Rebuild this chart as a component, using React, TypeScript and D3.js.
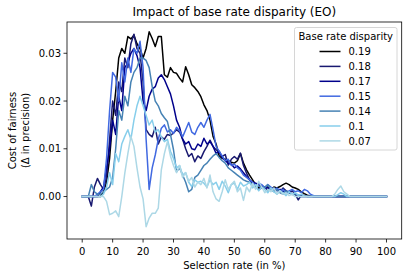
import React from "react";
import * as d3 from "d3";

const selectionRates: number[] = d3.range(0, 101);

const labels = ["0.19", "0.18", "0.17", "0.15", "0.14", "0.1", "0.07"];
const colors = ["#000000", "#191970", "#00008b", "#4169e1", "#4682b4", "#87ceeb", "#add8e6"];

const s019 = [0,0,0,0,0,0,0,0.001,0.003,0.008,
0.016,0.022,0.029,0.031,0.030,0.0335,0.033,0.0338,0.032,0.031,
0.029,0.031,0.0345,0.0331,0.0314,0.0335,0.0335,0.0255,0.025,0.027,
0.026,0.0258,0.0248,0.024,0.0272,0.0255,0.0234,0.0228,0.022,0.0209,
0.0192,0.018,0.016,0.0126,0.011,0.0085,0.008,0.0078,0.0075,0.0072,
0.007,0.0075,0.009,0.007,0.0056,0.0045,0.0035,0.0025,0.0018,0.002,
0.0018,0.002,0.0015,0.002,0.0018,0.0021,0.0025,0.0028,0.0025,0.002,
0.0018,0.0015,0.001,0.0006,0.0003,0.0001,0,0,0,0,
0,0,0,0,0,0,0,0,0,0,
0,0,0,0,0,0,0,0,0,0,
0];

const s018 = [0,0,0,-0.002,0.002,0.0038,0.0025,0.0015,0.004,0.012,
0.020,0.017,0.024,0.022,0.029,0.027,0.032,0.034,0.031,0.030,
0.024,0.014,0.013,0.0125,0.0145,0.011,0.0125,0.012,0.013,0.0128,
0.0133,0.014,0.0135,0.012,0.010,0.0084,0.009,0.0073,0.0085,0.008,
0.0094,0.0105,0.0118,0.0105,0.0098,0.0092,0.0084,0.0088,0.0066,0.0078,
0.0084,0.0078,0.0091,0.0065,0.0049,0.0035,0.0028,0.002,0.0015,0.0018,
0.002,0.0012,0.0018,0.0012,0.0015,0.001,0.0018,0.0012,0.0008,0.0012,
0.0005,-0.0007,0.0003,0.0002,0,0,0,0,0,0,
0,0,0,0,0,0,0,0,0,0,
0,0,0,0,0,0,0,0,0,0,
0];

const s017 = [0,0,0,0,0,0,0.001,0.002,0.006,0.010,
0.016,0.013,0.021,0.018,0.027,0.028,0.030,0.031,0.0295,0.027,
0.020,0.018,0.021,0.0225,0.023,0.0248,0.0255,0.0245,0.023,0.0215,
0.019,0.016,0.0145,0.012,0.011,0.0115,0.010,0.0098,0.011,0.0105,
0.0122,0.011,0.0115,0.0105,0.009,0.0095,0.0082,0.0075,0.007,0.0068,
0.006,0.0064,0.0058,0.005,0.0042,0.0035,0.003,0.0028,0.0025,0.0022,
0.002,0.0018,0.0015,0.0018,0.0012,0.0015,0.001,0.0012,0.0008,0.0006,
0.0005,0.0003,0,0,0,0,0,0,0,0,
0,0,0,0,0,0,0,0,0,0,
0,0,0,0,0,0,0,0,0,0,
0];

const s015 = [0,0,0,0,0,0.0005,0.001,0.0015,0.008,0.018,
0.026,0.025,0.020,0.028,0.024,0.029,0.026,0.031,0.030,0.0325,
0.027,0.012,0.0015,0.006,0.0087,0.012,0.0143,0.015,0.0135,0.014,
0.0132,0.0145,0.0138,0.0125,0.014,0.0155,0.0135,0.013,0.0145,0.0155,
0.0145,0.016,0.0172,0.014,0.0105,0.0095,0.0085,0.0075,0.0078,0.0065,
0.0068,0.006,0.0055,0.0045,0.004,0.0035,0.003,0.0022,0.0028,0.0025,
0.0018,0.0025,0.002,0.0015,0.0018,0.0012,0.0015,0.0008,0.0012,0.0015,
0.001,0.0012,0.0008,0.0015,0.0012,0.0005,0.0002,0,0,0,
0,0,0,0,0,0,0,0,0,0,
0,0,0,0,0,0,0,0,0,0,
0];

const s014 = [0,0,0,0.0025,0.001,0.0005,0.0005,0.001,0.0015,0.002,
0.004,0.010,0.018,0.016,0.021,0.019,0.024,0.026,0.027,0.029,
0.029,0.0285,0.027,0.023,0.020,0.019,0.0174,0.0165,0.0157,0.013,
0.0098,0.0052,0.006,0.0045,0.003,0.001,0.0015,0.004,0.0045,0.0055,
0.0065,0.007,0.0078,0.0085,0.009,0.0082,0.0075,0.007,0.006,0.0055,
0.005,0.0045,0.004,0.0035,0.0032,0.003,0.0025,0.002,0.0022,0.0018,
0.002,0.0025,0.0015,0.001,0.0015,0.0008,0.0005,0.0012,0.0008,0.0004,
0.0006,0.0003,0,0,0,0,0,0,0,0,
0,0,0,0,0,0,0,0,0,0,
0,0,0,0,0,0,0,0,0,0,
0];

const s010 = [0,0,0,0,0,0,0,0.0005,0.002,0.005,
0.0025,0.009,0.0073,0.011,0.0126,0.014,0.012,0.016,0.019,0.021,
0.019,0.017,0.015,0.016,0.0135,0.014,0.0125,0.0115,0.012,0.0095,
0.008,0.006,0.0065,0.0045,0.005,0.003,0.0021,0.0035,0.003,0.0032,
0.0028,0.002,0.0035,0.0025,0.003,0.0015,0.0032,0.0022,0.0008,0.0025,
0.0028,0.0015,0.003,0.0022,0.0025,0.003,0.0018,0.0025,0.0012,0.002,
0.0015,0.0008,0.0018,0.001,0.0005,0.0012,0.0008,0.0002,0.001,0.0005,
0.0008,0.0003,0.0005,0.0001,0,0,0,0,0,0,
0,0,0,0,0.0004,0.0008,0.0005,0,0,0,
0,0,0,0,0,0,0,0,0,0,
0];

const s007 = [0,0,0,0,0,0,0,0,-0.001,-0.0038,
-0.0035,-0.003,-0.0042,0,0.0049,0.009,0.0126,0.0105,0.006,0.002,
-0.0005,-0.0063,-0.0045,-0.0035,-0.0035,-0.0024,0.0056,0.009,0.0115,0.0085,
0.0065,0.005,0.0065,0.004,0.005,0.0032,0.004,0.002,0.003,0.0025,
0.0038,0.0018,0.0045,0.001,-0.0005,-0.001,0.001,0.0035,0.0015,0.0025,
0.0032,0.001,0.0018,-0.0008,0.002,0.001,0.0028,0.0015,0.0032,0.002,
0.0008,0.0015,0.001,0.0018,0.0005,0.0012,0.0005,0.0008,0.0002,0.0005,
0,0,0,0,0,0,0,0,0,0,
0,0,0,0.0005,0.0015,0.0022,0.001,0.0005,0,0,
0,0,0,0,0,0,0,0,0,0,
0];

const seriesValues = [s019, s018, s017, s015, s014, s010, s007];

const xTicks = [0, 10, 20, 30, 40, 50, 60, 70, 80, 90, 100];
const yTicks = [0, 0.01, 0.02, 0.03];

const W = 408, H = 278;
const left = 67, right = 401.7, top = 22, bottom = 239;
const FONT = "DejaVu Sans, sans-serif";

export default function App() {
  const x = d3.scaleLinear().domain([-5, 105]).range([left, right]);
  const y = d3.scaleLinear().domain([-0.00889, 0.03655]).range([bottom, top]);
  const line = d3.line<number>()
    .x((_, i) => x(selectionRates[i]))
    .y((d) => y(d));

  const legX = 294.5, legY = 27.5, legW = 102.5, legH = 122.5;
  return (
    <svg width={W} height={H} style={{ position: "absolute", left: 0, top: 0 }} fontFamily={FONT}>
      <rect width={W} height={H} fill="#fff" />
      <defs>
        <clipPath id="plot"><rect x={left} y={top} width={right - left} height={bottom - top} /></clipPath>
      </defs>
      <g clipPath="url(#plot)">
        {seriesValues.map((vals, k) => (
          <path key={k} d={line(vals) || ""} fill="none" stroke={colors[k]} strokeWidth={1.5} strokeLinejoin="round" strokeLinecap="square" />
        ))}
      </g>
      <rect x={left} y={top} width={right - left} height={bottom - top} fill="none" stroke="#000" strokeWidth={0.8} />
      {xTicks.map((t) => (
        <g key={t}>
          <line x1={x(t)} x2={x(t)} y1={bottom} y2={bottom + 3.5} stroke="#000" strokeWidth={0.8} />
          <text x={x(t)} y={bottom + 15.5} fontSize={10} textAnchor="middle" fill="#000">{t}</text>
        </g>
      ))}
      {yTicks.map((t) => (
        <g key={t}>
          <line x1={left - 3.5} x2={left} y1={y(t)} y2={y(t)} stroke="#000" strokeWidth={0.8} />
          <text x={left - 6} y={y(t) + 3.6} fontSize={10} textAnchor="end" fill="#000">{t.toFixed(2)}</text>
        </g>
      ))}
      <text x={(left + right) / 2} y={269} fontSize={10} textAnchor="middle">Selection rate (in %)</text>
      <text transform={`translate(15.5, ${(top + bottom) / 2}) rotate(-90)`} fontSize={10} textAnchor="middle">Cost of fairness</text>
      <text transform={`translate(29, ${(top + bottom) / 2}) rotate(-90)`} fontSize={10} textAnchor="middle">(Δ in precision)</text>
      <text x={(left + right) / 2} y={16} fontSize={12} textAnchor="middle">Impact of base rate disparity (EO)</text>
      <rect x={legX} y={legY} width={legW} height={legH} rx={2} fill="#fff" fillOpacity={0.8} stroke="#cccccc" strokeWidth={0.8} />
      <text x={legX + legW / 2} y={legY + 12} fontSize={10} textAnchor="middle">Base rate disparity</text>
      {labels.map((lab, k) => {
        const yy = legY + 24 + k * 14.9;
        return (
          <g key={lab}>
            <line x1={319.5} x2={340.5} y1={yy} y2={yy} stroke={colors[k]} strokeWidth={1.5} />
            <text x={348.5} y={yy + 3.6} fontSize={10}>{lab}</text>
          </g>
        );
      })}
    </svg>
  );
}
